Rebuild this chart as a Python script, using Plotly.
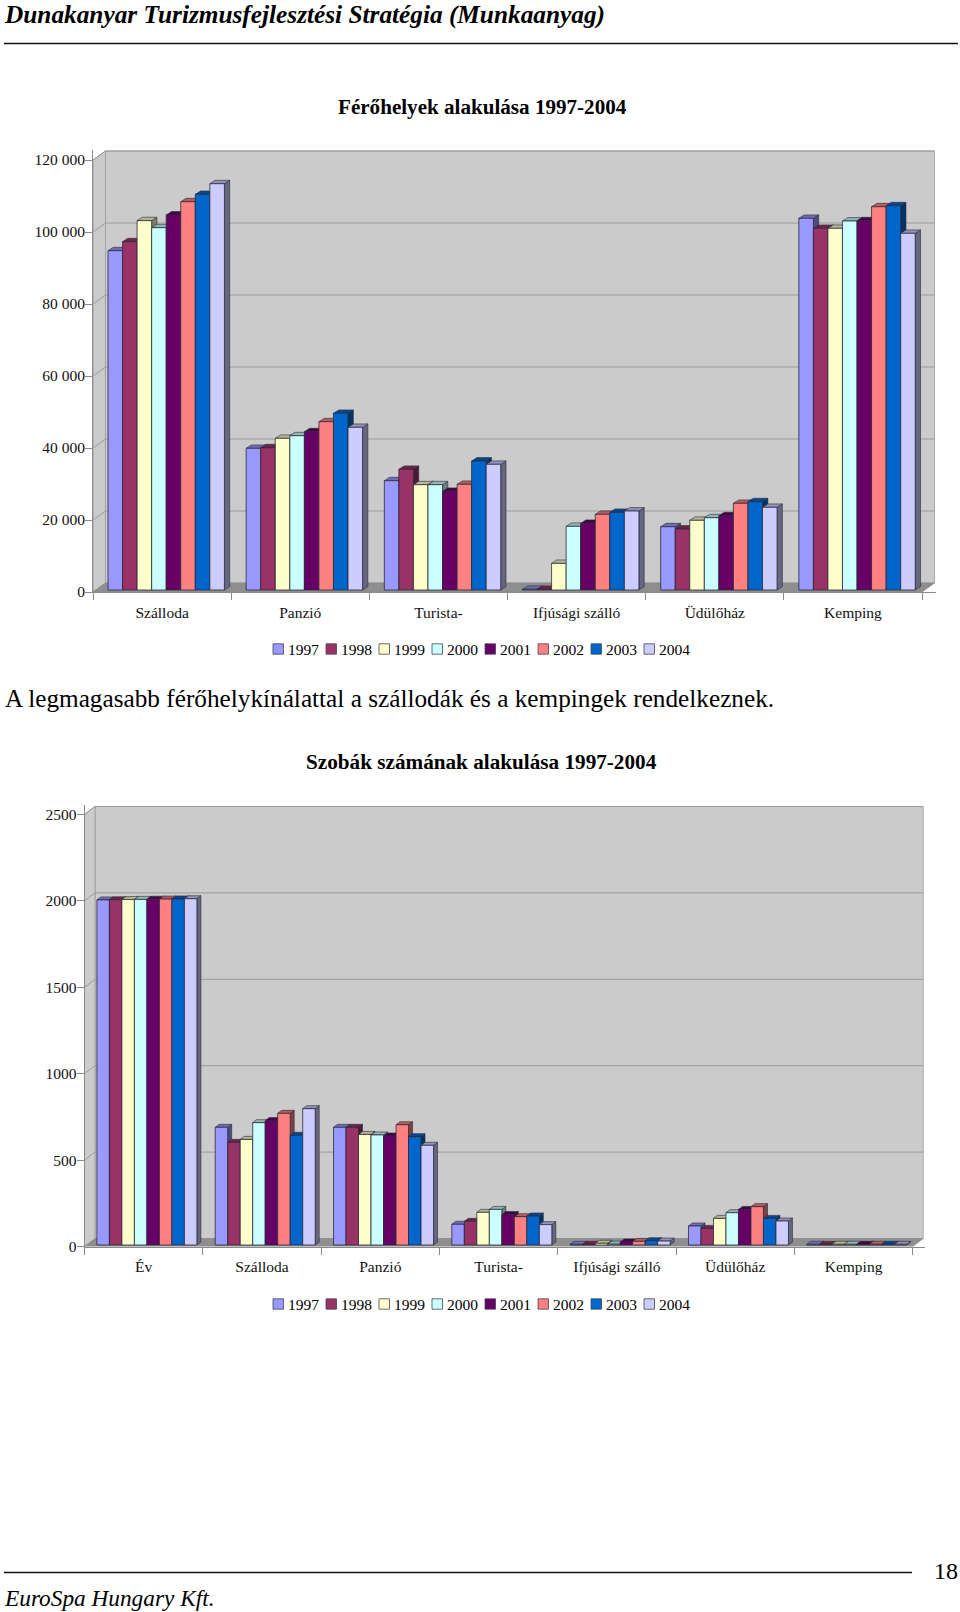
import plotly.graph_objects as go

# ---------- data ----------
YEARS = ["1997", "1998", "1999", "2000", "2001", "2002", "2003", "2004"]
COLORS = ["#9999FF", "#993366", "#FFFFCC", "#CCFFFF", "#660066", "#FF8080", "#0066CC", "#CCCCFF"]

CATS_1 = ["Szálloda", "Panzió", "Turista-", "Ifjúsági szálló", "Üdülőház", "Kemping"]
V1_1997 = [94250, 39360, 30360, 200, 17580, 103250]
V1_1998 = [96750, 39530, 33530, 200, 16940, 100470]
V1_1999 = [102600, 42140, 29250, 7400, 19360, 100470]
V1_2000 = [100640, 42860, 29250, 17690, 20080, 102500]
V1_2001 = [104170, 43970, 27420, 18530, 20640, 102580]
V1_2002 = [107860, 46750, 29360, 21030, 24080, 106470]
V1_2003 = [109900, 49080, 35830, 21580, 24530, 106750]
V1_2004 = [112860, 45190, 34920, 21940, 22970, 99080]
TICKS_1 = [0, 20000, 40000, 60000, 80000, 100000, 120000]
TICKTEXT_1 = ["0", "20 000", "40 000", "60 000", "80 000", "100 000", "120 000"]

CATS_2 = ["Év", "Szálloda", "Panzió", "Turista-", "Ifjúsági szálló", "Üdülőház", "Kemping"]
V2_1997 = [1997, 681, 681, 120, 4, 110, 4]
V2_1998 = [1998, 594, 681, 137, 4, 96, 3]
V2_1999 = [1999, 611, 640, 189, 10, 154, 4]
V2_2000 = [2000, 708, 637, 206, 5, 187, 4]
V2_2001 = [2001, 720, 631, 176, 17, 206, 4]
V2_2002 = [2002, 762, 696, 164, 21, 222, 4]
V2_2003 = [2003, 635, 627, 168, 25, 154, 4]
V2_2004 = [2004, 789, 577, 118, 23, 139, 4]
TICKS_2 = [0, 500, 1000, 1500, 2000, 2500]
TICKTEXT_2 = ["0", "500", "1000", "1500", "2000", "2500"]

SERIES_1 = [V1_1997, V1_1998, V1_1999, V1_2000, V1_2001, V1_2002, V1_2003, V1_2004]
SERIES_2 = [V2_1997, V2_1998, V2_1999, V2_2000, V2_2001, V2_2002, V2_2003, V2_2004]

# ---------- page ----------
W, H = 960, 1612
FONT = "Liberation Serif"
WALL = "#CBCBCB"
FLOOR = "#8E8E8E"
GRID = "#9A9A9A"
AXIS = "#8A8A8A"
EDGE = "#2A2A3A"


def shade(hex_color, k):
    r, g, b = (int(hex_color[i:i + 2], 16) for i in (1, 3, 5))
    return f"rgb({int(r * k)},{int(g * k)},{int(b * k)})"


fig = go.Figure()
shapes = []


def chart(ax, cats, series, ticks, ticktext, geom):
    """Pseudo-3D clustered columns: fronts are bars, tops/sides derive from the values."""
    x0, x1, y0, pxv = geom["x0"], geom["x1"], geom["y0"], geom["pxv"]
    wall_dx, wall_dy = geom["wall_dx"], geom["wall_dy"]
    n = len(cats)
    cw = (x1 - x0) / n
    pad = 1.5
    xr = [-0.5, n - 0.5 + (wall_dx + pad) / cw]
    yr = [0, (ticks[-1] * pxv + wall_dy + pad) / pxv]
    px_top = y0 - yr[1] * pxv
    px_right = x0 + (xr[1] - xr[0]) * cw
    sfx = "" if ax == 1 else "2"
    xref, yref = f"x{sfx}", f"y{sfx}"
    wx = wall_dx / cw                 # wall depth in category units
    wy = wall_dy / pxv                # wall depth in value units
    left, right = -0.5, n - 0.5
    top = ticks[-1]

    def poly(points, fill, line=None, lw=0.8):
        path = "M " + " L ".join(f"{a},{b}" for a, b in points) + " Z"
        shapes.append(dict(type="path", path=path, xref=xref, yref=yref, layer="below",
                           fillcolor=fill, line=dict(color=line or fill, width=lw)))

    def seg(a, b, c, d, color=GRID, lw=1):
        shapes.append(dict(type="line", x0=a, y0=b, x1=c, y1=d, xref=xref, yref=yref,
                           layer="below", line=dict(color=color, width=lw)))

    # walls and floor
    poly([(left + wx, wy), (right + wx, wy), (right + wx, top + wy), (left + wx, top + wy)], WALL, GRID)
    poly([(left, 0), (left + wx, wy), (left + wx, top + wy), (left, top)], WALL, GRID)
    poly([(left, 0), (right, 0), (right + wx, wy), (left + wx, wy)], FLOOR, FLOOR)
    for t in ticks[1:]:
        seg(left, t, left + wx, t + wy)
        seg(left + wx, t + wy, right + wx, t + wy)

    bw = geom["bar_w"] / cw
    start = geom["bar_off"] / cw - 0.5
    base = geom["base_px"] / pxv
    dx = geom["dx"] / cw
    dy = geom["dy"] / pxv

    # tops and sides, painted back to front so that nearer columns overlap
    for c in range(n):
        for s, vals in enumerate(series):
            col = COLORS[s]
            xl = c + start + s * bw
            xr_ = xl + bw
            v = vals[c] + base
            poly([(xr_, base), (xr_ + dx, base + dy), (xr_ + dx, v + dy), (xr_, v)],
                 shade(col, 0.5), EDGE, 0.6)
            poly([(xl, v), (xr_, v), (xr_ + dx, v + dy), (xl + dx, v + dy)],
                 shade(col, 0.72), EDGE, 0.6)

    for s, vals in enumerate(series):
        fig.add_trace(go.Bar(
            x=cats, y=vals, base=base, name=YEARS[s], width=bw, offset=start + s * bw,
            marker=dict(color=COLORS[s], line=dict(color=EDGE, width=0.8)),
            xaxis=xref, yaxis=yref, showlegend=False,
        ))

    tickfont = dict(family=FONT, size=15.5, color="#111111")
    fig.update_layout({
        f"xaxis{sfx}": dict(
            domain=[x0 / W, px_right / W], range=xr, type="category",
            categoryorder="array", categoryarray=cats, tickson="boundaries",
            ticks="outside", ticklen=7, tickcolor=AXIS, tickwidth=1,
            showline=True, linecolor=AXIS, linewidth=1, showgrid=False, zeroline=False,
            tickfont=tickfont, ticklabelstandoff=6, anchor=yref, fixedrange=True),
        f"yaxis{sfx}": dict(
            domain=[1 - y0 / H, 1 - px_top / H], range=yr,
            tickvals=ticks, ticktext=ticktext,
            ticks="outside", ticklen=7, tickcolor=AXIS, tickwidth=1,
            showline=True, linecolor=AXIS, linewidth=1, showgrid=False, zeroline=False,
            tickfont=tickfont, ticklabelstandoff=-3, anchor=xref, fixedrange=True),
    })


chart(1, CATS_1, SERIES_1, TICKS_1, TICKTEXT_1,
      dict(x0=93, x1=922, y0=592, pxv=0.0036, wall_dx=12.5, wall_dy=9,
           bar_w=14.55, bar_off=15, base_px=2, dx=5.3, dy=3.4))
chart(2, CATS_2, SERIES_2, TICKS_2, TICKTEXT_2,
      dict(x0=84.5, x1=912.7, y0=1246.5, pxv=0.1728, wall_dx=10.5, wall_dy=8,
           bar_w=12.5, bar_off=12.4, base_px=1.5, dx=4, dy=3))


# ---------- text, rules, legends ----------
annots = []


def text(s, x, y, size, bold=False, italic=False, anchor="left"):
    if bold:
        s = f"<b>{s}</b>"
    if italic:
        s = f"<i>{s}</i>"
    annots.append(dict(text=s, x=x / W, y=1 - y / H, xref="paper", yref="paper",
                       xanchor=anchor, yanchor="middle", showarrow=False,
                       font=dict(family=FONT, size=size, color="#000000")))


def rule(x0, x1, y):
    shapes.append(dict(type="line", xref="paper", yref="paper", x0=x0 / W, x1=x1 / W,
                       y0=1 - y / H, y1=1 - y / H, line=dict(color="#111111", width=1.5)))


def legend(xstart, y):
    for i, (yr, col) in enumerate(zip(YEARS, COLORS)):
        xs = xstart + 53 * i
        shapes.append(dict(type="rect", xref="paper", yref="paper",
                           x0=xs / W, x1=(xs + 10.5) / W,
                           y0=1 - (y + 5.2) / H, y1=1 - (y - 5.2) / H,
                           fillcolor=col, line=dict(color="#444455", width=0.8)))
        text(yr, xs + 13, y, 15.5)


text("Dunakanyar Turizmusfejlesztési Stratégia (Munkaanyag)", 2, 14.5, 25.3, bold=True, italic=True)
rule(4, 958, 43.5)
text("Férőhelyek alakulása 1997-2004", 482, 107.5, 21.1, bold=True, anchor="center")
legend(273, 649)
text("A legmagasabb férőhelykínálattal a szállodák és a kempingek rendelkeznek.", 2.5, 698, 25.25)
text("Szobák számának alakulása 1997-2004", 481, 762, 21.2, bold=True, anchor="center")
legend(273, 1304)
rule(4, 912, 1572.5)
text("18", 960, 1571, 24, anchor="right")
text("EuroSpa Hungary Kft.", 2, 1597.5, 23.3, italic=True)

fig.update_layout(
    width=W, height=H, margin=dict(l=0, r=0, t=0, b=0, pad=0, autoexpand=False),
    paper_bgcolor="white", plot_bgcolor="white",
    barmode="overlay", showlegend=False,
    shapes=shapes, annotations=annots,
    font=dict(family=FONT),
)

fig.write_html("out.html", config=dict(displayModeBar=False),
               post_script="document.body.style.margin='0';document.documentElement.style.overflow='hidden';")
